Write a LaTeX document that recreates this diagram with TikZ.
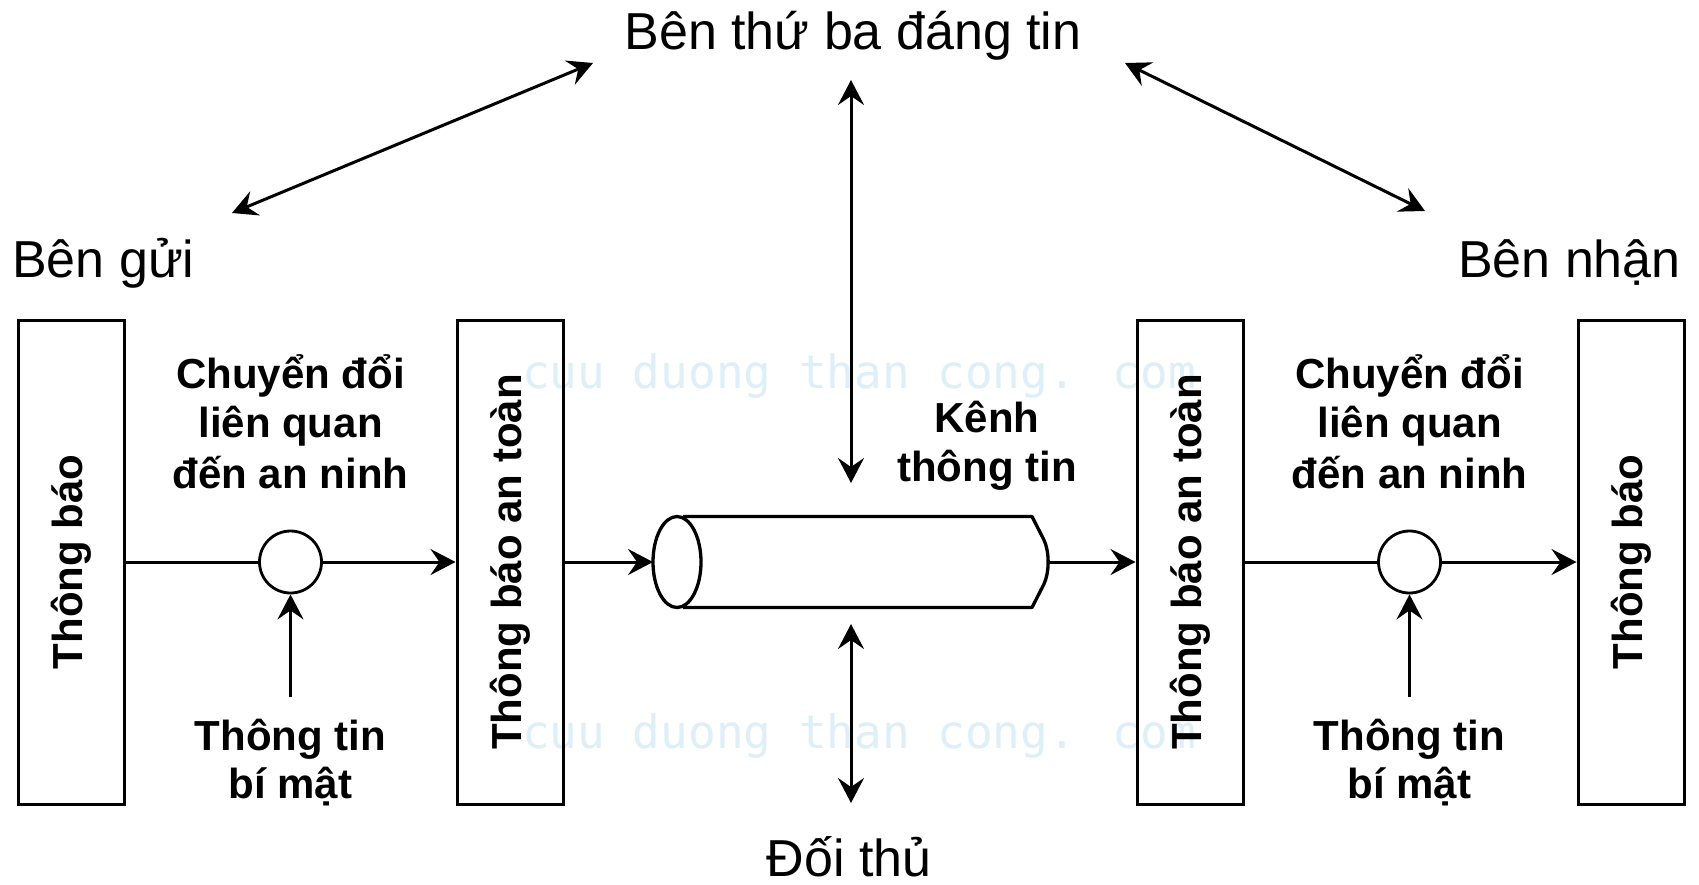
\documentclass[tikz,border=0pt]{standalone}
\usepackage{fontspec}
\setmainfont{Liberation Sans}
\newfontfamily\wmfont{DejaVu Sans Mono}
\usetikzlibrary{arrows.meta}
\definecolor{wmblue}{RGB}{222,239,248}
\begin{document}
\begin{tikzpicture}[x=1pt,y=-1pt,
  stepbox/.style={draw, line width=3pt, minimum width=106pt, minimum height=484pt, inner sep=0pt},
  lbl/.style={font=\fontsize{42}{50}\selectfont\bfseries, inner sep=0pt},
  big/.style={font=\fontsize{52}{60}\selectfont, inner sep=0pt},
  wm/.style={font=\wmfont\fontsize{46}{50}\selectfont, text=wmblue, inner sep=0pt},
  ln/.style={line width=3pt},
  tip/.tip={Stealth[length=25pt,width=26pt,inset=9pt]},
  conn/.style={ln, -tip},
  dbl/.style={ln, tip-tip},
  ring/.style={circle, draw, line width=2.8pt, minimum size=62pt, inner sep=0pt}
]
\useasboundingbox (0,0) rectangle (1699,884);
\fill[white] (0,0) rectangle (1699,884);

% watermark
\node[wm, anchor=base west] (wm1) at (522,388) {cuu duong than cong. com};
\node[wm, anchor=base west] (wm2) at (522,748) {cuu duong than cong. com};

% top labels
\node[big, anchor=base] (ttp) at (853,49) {Bên thứ ba đáng tin};
\node[big, anchor=base west] (gui) at (12,277) {Bên gửi};
\node[big, anchor=base east] (nhan) at (1681,277) {Bên nhận};
\node[big, anchor=base] (dt) at (849,876) {Đối thủ};

% boxes
\node[stepbox] (m1) at (71.5,562) {};
\node[lbl, rotate=90] (m1t) at (m1.center) {Thông báo};
\node[stepbox] (s1) at (510,562) {};
\node[lbl, rotate=90] (s1t) at (s1.center) {Thông báo an toàn};
\node[stepbox] (s2) at (1190,562) {};
\node[lbl, rotate=90] (s2t) at (s2.center) {Thông báo an toàn};
\node[stepbox] (m2) at (1631,562) {};
\node[lbl, rotate=90] (m2t) at (m2.center) {Thông báo};

% circles
\node[ring] (c1) at (290.5,562) {};
\node[ring] (c2) at (1409.5,562) {};

% left labels
\node[lbl, anchor=base] (a1) at (290.5,388) {Chuyển đổi};
\node[lbl, anchor=base] (a2) at (290.5,437) {liên quan};
\node[lbl, anchor=base] (a3) at (290.5,488) {đến an ninh};
\node[lbl, anchor=base] (k1a) at (290.5,750) {Thông tin};
\node[lbl, anchor=base] (k1b) at (290.5,798) {bí mật};
% right labels
\node[lbl, anchor=base] (b1) at (1409.5,388) {Chuyển đổi};
\node[lbl, anchor=base] (b2) at (1409.5,437) {liên quan};
\node[lbl, anchor=base] (b3) at (1409.5,488) {đến an ninh};
\node[lbl, anchor=base] (k2a) at (1409.5,750) {Thông tin};
\node[lbl, anchor=base] (k2b) at (1409.5,798) {bí mật};
% channel label
\node[lbl, anchor=base] (ch1) at (987,432) {Kênh};
\node[lbl, anchor=base] (ch2) at (987,481) {thông tin};

% cylinder
\coordinate (cylL) at (653,562);
\coordinate (cylR) at (1049,562);
\draw[line width=3.3pt, line join=round] (683,516.5) -- (1032,516.5) -- (1044,540)
  .. controls (1049.5,552) and (1049.5,572) .. (1044,584) -- (1032,607.5) -- (683,607.5);
\draw[line width=3.3pt, fill=white] (677,562) ellipse [x radius=24, y radius=45.5];

% connectors
\draw[ln] (m1.east) -- (c1.west);
\draw[conn] (c1.east) -- (s1.west);
\draw[conn] (s1.east) -- (cylL);
\draw[conn] (cylR) -- (s2.west);
\draw[ln] (s2.east) -- (c2.west);
\draw[conn] (c2.east) -- (m2.west);

\coordinate (u1) at (290.5,697);
\coordinate (u2) at (1409.5,697);
\draw[conn] (u1) -- (c1.south);
\draw[conn] (u2) -- (c2.south);

\coordinate (v1) at (851,80);
\coordinate (v2) at (851,483);
\coordinate (v3) at (851,624);
\coordinate (v4) at (851,803);
\draw[dbl] (v1) -- (v2);
\draw[dbl] (v3) -- (v4);

\coordinate (d1) at (232,213);
\coordinate (d2) at (593,63);
\coordinate (d3) at (1125,63);
\coordinate (d4) at (1425,211);
\draw[dbl] (d1) -- (d2);
\draw[dbl] (d3) -- (d4);
\end{tikzpicture}
\end{document}
